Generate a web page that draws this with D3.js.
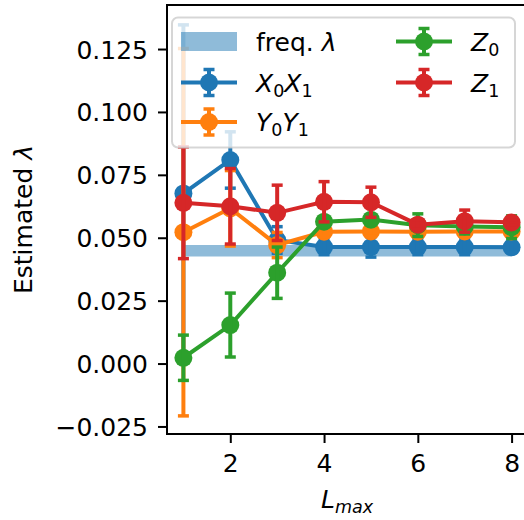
<!DOCTYPE html>
<html>
<head>
<meta charset="utf-8">
<script src="https://cdn.jsdelivr.net/npm/d3@7"></script>
<style>
  html, body { margin: 0; padding: 0; background: #fff; }
  svg { display: block; }
  text { font-family: "DejaVu Sans", sans-serif; fill: #000; }
</style>
</head>
<body>
<svg id="chart" width="524" height="520"></svg>
<script>
// ---- data ----
const lmax = [1, 2, 3, 4, 5, 6, 7, 8];
const xTicks = [2, 4, 6, 8];
const yTicks = [-0.025, 0, 0.025, 0.05, 0.075, 0.1, 0.125];
const x0x1 = [0.0676, 0.0809, 0.0491, 0.0463, 0.0463, 0.0463, 0.0463, 0.0462];
const x0x1Err = [0.067, 0.0112, 0.0053, 0.003, 0.004, 0.003, 0.003, 0.002];
const y0y1 = [0.0522, 0.0617, 0.0471, 0.0524, 0.0525, 0.0524, 0.0525, 0.0525];
const y0y1Err = [0.073, 0.015, 0.005, 0.002, 0.002, 0.002, 0.002, 0.002];
const z0 = [0.0023, 0.0153, 0.0361, 0.0564, 0.0572, 0.0550, 0.0545, 0.0542];
const z0Err = [0.009, 0.0127, 0.0102, 0.002, 0.002, 0.0045, 0.003, 0.0045];
const z1 = [0.0639, 0.0625, 0.0599, 0.0643, 0.0641, 0.0552, 0.0566, 0.0561];
const z1Err = [0.0222, 0.015, 0.011, 0.008, 0.006, 0.002, 0.0044, 0.001];
const freqLambda = 0.0448;
const freqHalfWidth = 0.0023;

const series = [
  { name: ["X", "0", "X", "1"], vals: x0x1, err: x0x1Err, color: "#1f77b4" },
  { name: ["Y", "0", "Y", "1"], vals: y0y1, err: y0y1Err, color: "#ff7f0e" },
  { name: ["Z", "0"], vals: z0, err: z0Err, color: "#2ca02c" },
  { name: ["Z", "1"], vals: z1, err: z1Err, color: "#d62728" }
];

// ---- layout ----
const L = 167, R = 528, T = 5, B = 434;
const FS = 25;
const svg = d3.select("#chart");
const x = d3.scaleLinear().domain([0.65, 8.35]).range([L, R]);
const y = d3.scaleLinear().domain([-0.0280, 0.1425]).range([B, T]);

// freq band
const band = d3.area()
  .x(d => x(d))
  .y0(() => y(freqLambda - freqHalfWidth))
  .y1(() => y(freqLambda + freqHalfWidth));
svg.append("path").datum(lmax).attr("d", band)
  .attr("fill", "#1f77b4").attr("fill-opacity", 0.5);

// series
const line = d3.line().x((d, i) => x(lmax[i])).y(d => y(d));
const capW = 5.5;
series.forEach(s => {
  const g = svg.append("g");
  g.append("path").datum(s.vals).attr("d", line)
    .attr("fill", "none").attr("stroke", s.color).attr("stroke-width", 4);
  g.selectAll("circle").data(s.vals).join("circle")
    .attr("cx", (d, i) => x(lmax[i])).attr("cy", d => y(d)).attr("r", 9)
    .attr("fill", s.color);
  const eb = g.selectAll("g.eb").data(s.vals).join("g").attr("class", "eb");
  eb.append("line")
    .attr("x1", (d, i) => x(lmax[i])).attr("x2", (d, i) => x(lmax[i]))
    .attr("y1", (d, i) => y(d - s.err[i])).attr("y2", (d, i) => y(d + s.err[i]))
    .attr("stroke", s.color).attr("stroke-width", 4);
  [-1, 1].forEach(sg => {
    eb.append("line")
      .attr("x1", (d, i) => x(lmax[i]) - capW).attr("x2", (d, i) => x(lmax[i]) + capW)
      .attr("y1", (d, i) => y(d + sg * s.err[i])).attr("y2", (d, i) => y(d + sg * s.err[i]))
      .attr("stroke", s.color).attr("stroke-width", 3.5);
  });
});

// axes
const fmt = d3.format(".3f");
const yAxis = svg.append("g").attr("transform", `translate(${L},0)`)
  .call(d3.axisLeft(y).tickValues(yTicks).tickFormat(fmt).tickSize(9).tickPadding(10).tickSizeOuter(0));
const xAxis = svg.append("g").attr("transform", `translate(0,${B})`)
  .call(d3.axisBottom(x).tickValues(xTicks).tickFormat(d3.format("d")).tickSize(9).tickPadding(11).tickSizeOuter(0));
[yAxis, xAxis].forEach(a => {
  a.select(".domain").remove();
  a.selectAll(".tick line").attr("stroke", "#000").attr("stroke-width", 2);
  a.selectAll(".tick text").style("font-size", FS + "px").attr("font-family", "DejaVu Sans");
});
yAxis.selectAll(".tick text").attr("dy", "0.36em");
xAxis.selectAll(".tick text").attr("dy", "0.73em");

// frame
svg.append("rect").attr("x", L).attr("y", T).attr("width", R - L).attr("height", B - T)
  .attr("fill", "none").attr("stroke", "#000").attr("stroke-width", 2);

// axis labels
const yl = svg.append("text").attr("transform", `translate(32,${(T + B) / 2}) rotate(-90)`)
  .attr("text-anchor", "middle").style("font-size", FS + "px");
yl.append("tspan").text("Estimated ");
yl.append("tspan").attr("font-style", "italic").text("λ");

const xl = svg.append("text").attr("x", 347).attr("y", 508)
  .attr("text-anchor", "middle").style("font-size", FS + "px");
xl.append("tspan").attr("font-style", "italic").text("L");
xl.append("tspan").attr("font-style", "italic").attr("dy", 5).style("font-size", (FS * 0.7) + "px").text("max");

// legend
const lg = svg.append("g");
lg.append("rect").attr("x", 172).attr("y", 17.5).attr("width", 343).attr("height", 130)
  .attr("rx", 6).attr("fill", "#fff").attr("fill-opacity", 0.8)
  .attr("stroke", "#cccccc").attr("stroke-opacity", 0.8).attr("stroke-width", 2);

const rowY = [41.5, 82.5, 122];
const colHandle = [181, 396];
const colText = [256, 471];
const hLen = 56;

// freq item
lg.append("rect").attr("x", colHandle[0]).attr("y", rowY[0] - 9.5).attr("width", hLen).attr("height", 19)
  .attr("fill", "#1f77b4").attr("fill-opacity", 0.5);
const ft = lg.append("text").attr("x", colText[0]).attr("y", rowY[0] + 9).style("font-size", FS + "px");
ft.append("tspan").text("freq. ");
ft.append("tspan").attr("font-style", "italic").text("λ");

const pos = [[0, 1], [0, 2], [1, 0], [1, 1]];
series.forEach((s, k) => {
  const [c, r] = pos[k];
  const hx = colHandle[c], cy = rowY[r], mx = hx + hLen / 2;
  lg.append("line").attr("x1", hx).attr("x2", hx + hLen).attr("y1", cy).attr("y2", cy)
    .attr("stroke", s.color).attr("stroke-width", 4);
  lg.append("line").attr("x1", mx).attr("x2", mx).attr("y1", cy - 13).attr("y2", cy + 13)
    .attr("stroke", s.color).attr("stroke-width", 4);
  [-13, 13].forEach(o => lg.append("line").attr("x1", mx - capW).attr("x2", mx + capW)
    .attr("y1", cy + o).attr("y2", cy + o).attr("stroke", s.color).attr("stroke-width", 3.5));
  lg.append("circle").attr("cx", mx).attr("cy", cy).attr("r", 9).attr("fill", s.color);
  const t = lg.append("text").attr("x", colText[c]).attr("y", cy + 9).style("font-size", FS + "px");
  for (let j = 0; j < s.name.length; j += 2) {
    t.append("tspan").attr("font-style", "italic").attr("dy", j === 0 ? 0 : -5).text(s.name[j]);
    t.append("tspan").attr("dy", 5).style("font-size", (FS * 0.7) + "px").text(s.name[j + 1]);
  }
});
</script>
</body>
</html>
